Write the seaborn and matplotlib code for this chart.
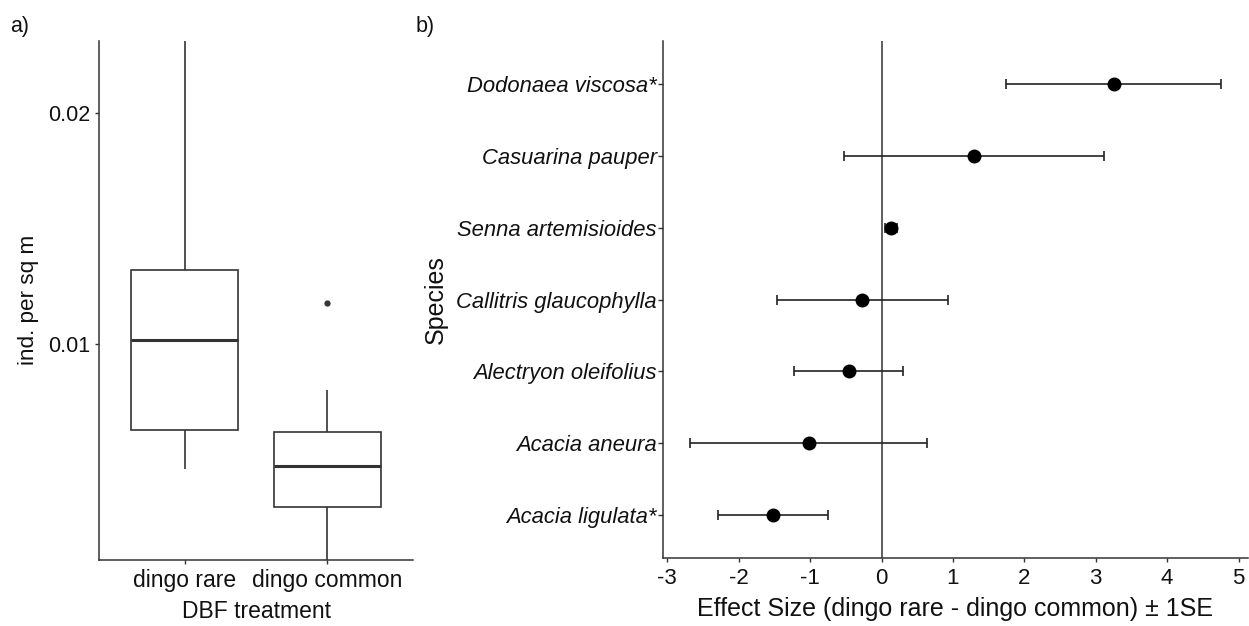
import matplotlib
matplotlib.use("Agg")
import matplotlib.pyplot as plt
import numpy as np
import pandas as pd
import seaborn as sns

# ---- data: panel a (individual densities, ind. per sq m) ----
treatments = ["dingo rare", "dingo common"]
rare_values = [0.00458, 0.00627, 0.01017, 0.01319, 0.0235]
common_values = [0.0003, 0.0019, 0.00291, 0.0039, 0.0047, 0.0054, 0.00619, 0.00799, 0.01177]

# ---- data: panel b (effect sizes +- 1SE) ----
species = ["Dodonaea viscosa*", "Casuarina pauper", "Senna artemisioides",
           "Callitris glaucophylla", "Alectryon oleifolius", "Acacia aneura",
           "Acacia ligulata*"]
effect = [3.25, 1.30, 0.13, -0.27, -0.46, -1.02, -1.52]
se = [1.51, 1.82, 0.08, 1.20, 0.76, 1.66, 0.77]
x_ticks = [-3, -2, -1, 0, 1, 2, 3, 4, 5]
y_ticks_a = [0.01, 0.02]

sns.set_theme(style="ticks")
plt.rcParams["font.family"] = ["Liberation Sans", "DejaVu Sans"]

fig = plt.figure(figsize=(12.49, 6.26), dpi=100)
axA = fig.add_axes([0.0793, 0.106, 0.2514, 0.829])
axB = fig.add_axes([0.531, 0.108, 0.468, 0.827])

line_col = "#333333"
txt_col = "#111111"

# ---- panel a ----
df = pd.DataFrame({
    "treatment": [treatments[0]] * len(rare_values) + [treatments[1]] * len(common_values),
    "value": rare_values + common_values,
})
sns.boxplot(data=df, x="treatment", y="value", order=treatments, width=0.75,
            color="white", linecolor=line_col, linewidth=1.2, showcaps=False,
            whis=1.5, medianprops=dict(linewidth=2.2, color=line_col),
            flierprops=dict(marker="o", markersize=3.5, markerfacecolor=line_col,
                            markeredgecolor=line_col),
            ax=axA)
axA.set_xlim(-0.6, 1.6)
axA.set_ylim(0.00064, 0.02315)
axA.set_yticks(y_ticks_a)
axA.set_yticklabels(["0.01", "0.02"])
axA.set_xlabel("DBF treatment", fontsize=16.5, color=txt_col, labelpad=6)
axA.set_ylabel("ind. per sq m", fontsize=16.2, color=txt_col, labelpad=6)
axA.tick_params(axis="x", labelsize=16.5, labelcolor=txt_col, color=line_col,
                length=3, width=1)
axA.tick_params(axis="y", labelsize=15.5, labelcolor=txt_col, color=line_col,
                length=3, width=1)
for s in ["top", "right"]:
    axA.spines[s].set_visible(False)
for s in ["left", "bottom"]:
    axA.spines[s].set_color(line_col)
    axA.spines[s].set_linewidth(1.1)

# ---- panel b ----
ypos = np.arange(len(species))
axB.errorbar(effect, ypos, xerr=se, fmt="none", ecolor="#222222",
             elinewidth=1.2, capsize=3.5, capthick=1.2, zorder=2)
sns.pointplot(x=effect, y=species, order=species, orient="h", linestyle="none",
              color="black", markers="o", markersize=8, errorbar=None,
              ax=axB, zorder=3)
axB.axvline(0, color=line_col, linewidth=1.1, zorder=1)
axB.set_xlim(-3.057, 5.129)
axB.set_ylim(len(species) - 0.4, -0.6)
axB.set_xticks(x_ticks)
axB.set_xticklabels([str(t) for t in x_ticks])
axB.set_xlabel("Effect Size (dingo rare - dingo common) \u00b1 1SE", fontsize=18,
               color=txt_col, labelpad=6)
axB.set_ylabel("Species", fontsize=18, color=txt_col, labelpad=6)
axB.tick_params(axis="x", labelsize=16, labelcolor=txt_col, color=line_col,
                length=3, width=1, pad=4)
axB.tick_params(axis="y", labelsize=15.8, labelcolor=txt_col, color=line_col,
                length=3.5, width=1, pad=1)
for lab in axB.get_yticklabels():
    lab.set_fontstyle("italic")
for s in ["top", "right"]:
    axB.spines[s].set_visible(False)
for s in ["left", "bottom"]:
    axB.spines[s].set_color(line_col)
    axB.spines[s].set_linewidth(1.1)

fig.text(0.008, 0.958, "a)", fontsize=15.5, color=txt_col, ha="left", va="center")
fig.text(0.333, 0.958, "b)", fontsize=15.5, color=txt_col, ha="left", va="center")

fig.savefig("out.png", dpi=100)
